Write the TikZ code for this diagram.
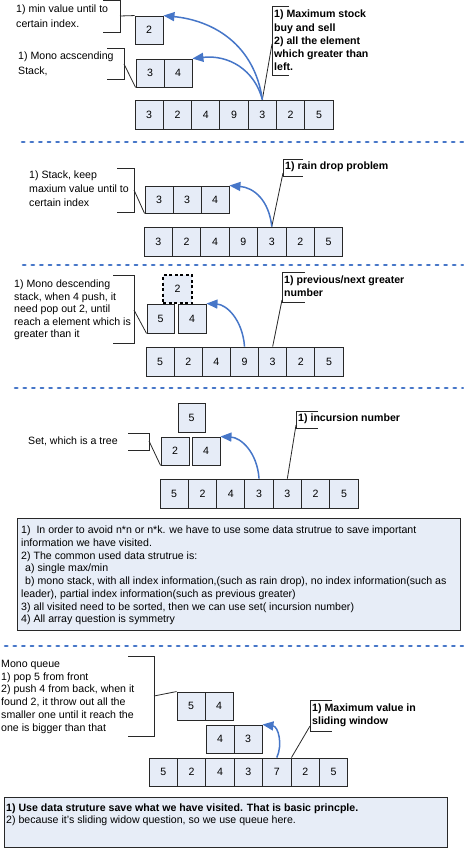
\documentclass[tikz,border=0pt]{standalone}
\usepackage{fontspec}
\setmainfont{Liberation Sans}
\usetikzlibrary{arrows.meta}
\definecolor{cellfill}{RGB}{230,236,247}
\definecolor{boxfill}{RGB}{231,237,247}
\definecolor{arrowblue}{RGB}{70,118,200}
\definecolor{sepblue}{RGB}{70,118,200}
\definecolor{edge}{RGB}{40,40,40}
\begin{document}
\begin{tikzpicture}[x=1pt,y=-1pt,
  cell/.style={draw=edge, fill=cellfill, line width=0.9pt, minimum width=28.3pt, minimum height=29pt, inner sep=0pt, font=\fontsize{10.6}{12.7}\selectfont},
  ghost/.style={cell, draw=black, line width=2pt, dash pattern=on 3pt off 2.5pt},
  note/.style={anchor=north west, inner sep=0pt, align=left},
  brk/.style={draw=edge, line width=0.9pt},
  lead/.style={draw=edge, line width=0.8pt},
  jump/.style={draw=arrowblue, line width=1.5pt, -{Triangle[length=11pt,width=9pt]}},
  sepline/.style={draw=sepblue, line width=2.6pt, line cap=round, dash pattern=on 2.4pt off 6.2pt},
  panel/.style={draw=edge, fill=boxfill, line width=0.9pt, inner sep=0pt, anchor=north west}
]
\useasboundingbox (0,0) rectangle (463,848);

% ---------- Section 1 ----------
\node[cell, minimum width=28pt, minimum height=28pt] (m1) at (149,30) {2};
\node[cell, minimum width=28pt, minimum height=28pt] (p1) at (150,73) {3};
\node[cell, minimum width=28pt, minimum height=28pt] (p2) at (178,73) {4};
\foreach \v [count=\i] in {3,2,4,9,3,2,5}
  \node[cell] (a\i) at ({135+28.3*(\i-0.5)},114.5) {\v};

\draw[brk] (103,0.5) -- (120,0.5) -- (120,32) -- (103,32);
\coordinate (k1) at (120,16);
\draw[lead] (k1) -- (m1.north west);
\node[note, font=\fontsize{10.6}{15}\selectfont] (t1) at (16,4.5) {1) min value until to\\certain index.};

\draw[brk] (107,48) -- (124,48) -- (124,79) -- (107,79);
\coordinate (k2) at (124,64);
\draw[lead] (k2) -- (p1.south west);
\node[note, font=\fontsize{10.6}{14.7}\selectfont] (t2) at (18,52) {1) Mono acscending\\Stack,};

\draw[brk] (289,6) -- (272,6) -- (272,75) -- (289,75);
\coordinate (k3) at (272,44);
\draw[lead] (a5.north) -- (k3);
\node[note, font=\fontsize{10.6}{13.2}\selectfont\bfseries] (t3) at (274,10) {1) Maximum stock\\buy and sell\\2) all the element\\which greater than\\left.};

\draw[jump] (a5.north) .. controls +(-8,-55) and +(50,5) .. (m1.north east);
\draw[jump] (a5.north) .. controls +(-8,-30) and +(36,-4) .. (p2.north east);

\coordinate (s1a) at (22,142); \coordinate (s1b) at (463,142);
\draw[sepline] (s1a) -- (s1b);

% ---------- Section 2 ----------
\foreach \v [count=\i] in {3,3,4}
  \node[cell, minimum width=28pt, minimum height=27pt] (q\i) at ({145+28*(\i-0.5)},199.5) {\v};
\foreach \v [count=\i] in {3,2,4,9,3,2,5}
  \node[cell, minimum width=28.4pt] (b\i) at ({144+28.4*(\i-0.5)},241.5) {\v};

\draw[brk] (117,168) -- (134,168) -- (134,212) -- (117,212);
\coordinate (k4) at (134,190);
\draw[lead] (k4) -- (q1.south west);
\node[note, font=\fontsize{10.6}{14}\selectfont] (t4) at (29,171) {1) Stack, keep\\maxium value until to\\certain index};

\draw[brk] (303,159) -- (283,159) -- (283,176) -- (303,176);
\coordinate (k5) at (283,173);
\draw[lead] (b5.north) -- (k5);
\node[note, font=\fontsize{10.6}{13}\selectfont\bfseries] (t5) at (285,162) {1) rain drop problem};

\draw[jump] (b5.north) .. controls +(-3,-27) and +(24,2) .. (q3.north east);

\coordinate (s2a) at (23,265); \coordinate (s2b) at (463,265);
\draw[sepline] (s2a) -- (s2b);

% ---------- Section 3 ----------
\node[ghost, minimum width=29pt, minimum height=28pt] (g1) at (177.5,289) {2};
\node[cell, minimum width=27pt] (r1) at (160.5,318.5) {5};
\node[cell, minimum width=28pt] (r2) at (192,318.5) {4};
\foreach \v [count=\i] in {5,2,4,9,3,2,5}
  \node[cell, minimum width=28.15pt] (c\i) at ({146+28.15*(\i-0.5)},361.5) {\v};

\draw[brk] (113,275) -- (134,275) -- (134,343) -- (113,343);
\coordinate (k6) at (134,310);
\draw[lead] (k6) -- (r1.south west);
\node[note, font=\fontsize{10.6}{12.5}\selectfont] (t6) at (14,280) {1) Mono descending\\stack, when 4 push, it\\need pop out 2, until\\reach a element which is\\greater than it};

\draw[brk] (305,272) -- (282,272) -- (282,302) -- (305,302);
\coordinate (k7) at (282,300);
\draw[lead] (c5.north) -- (k7);
\node[note, font=\fontsize{10.6}{13}\selectfont\bfseries] (t7) at (284,276) {1) previous/next greater\\number};

\draw[jump] (c4.north) .. controls +(-2,-27) and +(20,1) .. (r2.north east);

\coordinate (s3a) at (15,388); \coordinate (s3b) at (463,388);
\draw[sepline] (s3a) -- (s3b);

% ---------- Section 4 ----------
\node[cell, minimum width=27pt] (u1) at (191.5,417.5) {5};
\node[cell, minimum width=28pt, minimum height=28pt] (u2) at (175,451) {2};
\node[cell, minimum width=28pt, minimum height=28pt] (u3) at (206,451) {4};
\foreach \v [count=\i] in {5,2,4,3,3,2,5}
  \node[cell] (d\i) at ({160+28.3*(\i-0.5)},493.5) {\v};

\draw[brk] (128,433) -- (149,433) -- (149,450) -- (128,450);
\coordinate (k8) at (149,441);
\draw[lead] (k8) -- (u2.south west);
\node[note, font=\fontsize{10.6}{12.7}\selectfont] (t8) at (28,437) {Set, which is a tree};

\draw[brk] (318,411) -- (296,411) -- (296,428) -- (318,428);
\coordinate (k9) at (296,425);
\draw[lead] (d5.north) -- (k9);
\node[note, font=\fontsize{10.6}{13}\selectfont\bfseries] (t9) at (298,414) {1) incursion number};

\draw[jump] (d4.north) .. controls +(-2,-27) and +(20,1) .. (u3.north east);

% ---------- Summary panel ----------
\node[panel, minimum width=443pt, minimum height=112pt] (box1) at (17,518) {};
\node[note, font=\fontsize{10.6}{12.7}\selectfont] (t10) at (21,526) {1)\ \ In order to avoid n*n or n*k. we have to use some data strutrue to save important\\information we have visited.\\2) The common used data strutrue is:\\\hspace*{4pt}a) single max/min\\\hspace*{4pt}b) mono stack, with all index information,(such as rain drop), no index information(such as\\leader), partial index information(such as previous greater)\\3) all visited need to be sorted, then we can use set( incursion number)\\4) All array question is symmetry};

\coordinate (s4a) at (5,646); \coordinate (s4b) at (463,646);
\draw[sepline] (s4a) -- (s4b);

% ---------- Section 5 ----------
\node[cell, minimum width=28pt, minimum height=28pt] (v1) at (191,706) {5};
\node[cell, minimum width=28pt, minimum height=28pt] (v2) at (219,706) {4};
\node[cell, minimum width=28pt, minimum height=28pt] (w1) at (220,739) {4};
\node[cell, minimum width=28pt, minimum height=28pt] (w2) at (248,739) {3};
\foreach \v [count=\i] in {5,2,4,3,7,2,5}
  \node[cell, minimum width=28.4pt, minimum height=28pt] (e\i) at ({149+28.4*(\i-0.5)},772) {\v};

\draw[brk] (128,656) -- (154,656) -- (154,736) -- (128,736);
\coordinate (k10) at (154,696);
\draw[lead] (k10) -- (v1.north west);
\node[note, font=\fontsize{10.6}{12.7}\selectfont] (t11) at (1,660) {Mono queue\\1) pop 5 from front\\2) push 4 from back, when it\\found 2, it throw out all the\\smaller one until it reach the\\one is bigger than that};

\draw[brk] (332,700) -- (310,700) -- (310,731) -- (332,731);
\coordinate (k11) at (310,726);
\draw[lead] (e5.north east) -- (k11);
\node[note, font=\fontsize{10.6}{13}\selectfont\bfseries] (t12) at (312,704) {1) Maximum value in\\sliding window};

\draw[jump] (e5.north) .. controls +(6,-13) and +(16,2) .. (w2.north east);

% ---------- Bottom panel ----------
\node[panel, minimum width=443pt, minimum height=50pt] (box2) at (4,797) {};
\node[note, font=\fontsize{10.6}{12}\selectfont] (t13) at (6,804) {\textbf{1) Use data struture save what we have visited. That is basic princple.}\\2) because it's sliding widow question, so we use queue here.};

\end{tikzpicture}
\end{document}
